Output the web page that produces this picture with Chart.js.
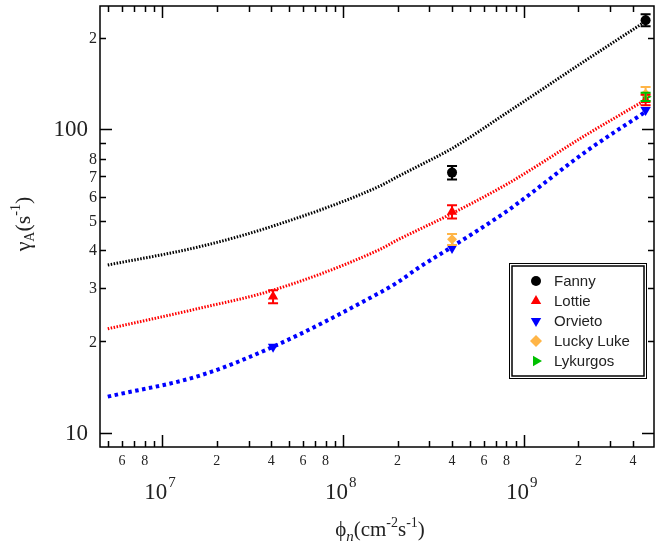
<!DOCTYPE html>
<html>
<head>
  <title>gamma_A vs phi_n</title>
  <script src="https://cdn.jsdelivr.net/npm/chart.js"></script>
  <style>
    body { margin: 0; background: #fff; }
    #wrap { width: 660px; height: 544px; }
  </style>
</head>
<body>
<div id="wrap"><canvas id="gammaChart" width="660" height="544"></canvas></div>
<script>
// axis limits
var xMin = 4.53e6, xMax = 5.23e9;
var yMin = 8.97, yMax = 255;

// fitted curves
var curveX = [5e6, 1.6e7, 4.1e7, 1.57e8, 2e8, 2.6e8, 4e8, 8.2e8, 2.2e9, 4.7e9];
var fannyCurve   = [35.7, 41.0, 48.0, 64.7, 69.8, 75.6, 86.5, 114.3, 169, 227];
var lottieCurve  = [22.0, 25.7, 29.5, 40.0, 43.2, 46.6, 52.8, 66.4, 95.8, 125];
var orvietoCurve = [13.15, 15.4, 19.2, 28.8, 31.3, 34.9, 41.0, 54.2, 84.5, 114.3];

// measured points
var fannyX = [4e8, 4.7e9],           fannyY = [72, 229],          fannyErr = [3.7, 10.5];
var lottieX = [4.1e7, 4e8, 4.7e9],   lottieY = [28.1, 53.5, 125], lottieErr = [1.4, 2.7, 5];
var orvietoX = [4.1e7, 4e8, 4.7e9],  orvietoY = [19.2, 40.6, 115.8];
var luckyX = [4e8, 4.7e9],           luckyY = [43.4, 131],        luckyErr = [1.8, 7];
var lykX = [4.7e9],                  lykY = [128],                lykErr = [4];

// ticks
var xTickVals = [5e6, 6e6, 7e6, 8e6, 9e6, 1e7, 2e7, 3e7, 4e7, 5e7, 6e7, 7e7, 8e7, 9e7,
                 1e8, 2e8, 3e8, 4e8, 5e8, 6e8, 7e8, 8e8, 9e8, 1e9, 2e9, 3e9, 4e9];
var xSmallLabels = {6e6: "6", 8e6: "8", 2e7: "2", 4e7: "4", 6e7: "6", 8e7: "8",
                    2e8: "2", 4e8: "4", 6e8: "6", 8e8: "8", 2e9: "2", 4e9: "4"};
var xDecades = [1e7, 1e8, 1e9];
var xDecadeExp = ["7", "8", "9"];
var yTickVals = [10, 20, 30, 40, 50, 60, 70, 80, 90, 100, 200];
var yBigLabels = {10: "10", 100: "100"};
var ySmallLabels = {20: "2", 30: "3", 40: "4", 50: "5", 60: "6", 70: "7", 80: "8", 200: "2"};

var legendNames = ["Fanny", "Lottie", "Orvieto", "Lucky Luke", "Lykurgos"];
var legendColors = ["#000000", "#ff0000", "#0000ff", "#ffb547", "#00c000"];
var legendShapes = ["circle", "up", "down", "diamond", "right"];

function pts(xs, ys) {
  return xs.map(function (x, i) { return {x: x, y: ys[i]}; });
}

function drawMarker(ctx, shape, x, y, r, color) {
  ctx.save();
  ctx.fillStyle = color;
  ctx.beginPath();
  if (shape === "circle") {
    ctx.arc(x, y, r, 0, Math.PI * 2);
  } else if (shape === "diamond") {
    ctx.moveTo(x, y - r); ctx.lineTo(x + r, y); ctx.lineTo(x, y + r); ctx.lineTo(x - r, y);
  } else {
    var rot = shape === "up" ? 0 : shape === "down" ? Math.PI : Math.PI / 2;
    for (var k = 0; k < 3; k++) {
      var a = rot + k * 2 * Math.PI / 3;
      var px = x + Math.sin(a) * r, py = y - Math.cos(a) * r;
      if (k === 0) ctx.moveTo(px, py); else ctx.lineTo(px, py);
    }
  }
  ctx.closePath();
  ctx.fill();
  ctx.restore();
}

var errorBars = {
  id: "errorBars",
  afterDatasetsDraw: function (chart) {
    var ctx = chart.ctx, xs = chart.scales.x, ys = chart.scales.y;
    chart.data.datasets.forEach(function (ds) {
      if (!ds.err) return;
      ctx.save();
      ctx.strokeStyle = ds.backgroundColor;
      ctx.lineWidth = 2;
      ds.data.forEach(function (p, i) {
        var px = xs.getPixelForValue(p.x);
        var top = ys.getPixelForValue(p.y + ds.err[i]);
        var bot = ys.getPixelForValue(p.y - ds.err[i]);
        ctx.beginPath();
        ctx.moveTo(px, top); ctx.lineTo(px, bot);
        ctx.moveTo(px - 5, top); ctx.lineTo(px + 5, top);
        ctx.moveTo(px - 5, bot); ctx.lineTo(px + 5, bot);
        ctx.stroke();
      });
      ctx.restore();
    });
  }
};

var frameAndLabels = {
  id: "frameAndLabels",
  afterDraw: function (chart) {
    var ctx = chart.ctx, a = chart.chartArea;
    var xs = chart.scales.x, ys = chart.scales.y;
    ctx.save();
    ctx.strokeStyle = "#000";
    ctx.lineWidth = 1.5;
    ctx.strokeRect(a.left, a.top, a.right - a.left, a.bottom - a.top);

    // x ticks, bottom and top, pointing inward
    ctx.beginPath();
    xTickVals.forEach(function (v) {
      var px = Math.round(xs.getPixelForValue(v)) + 0.5;
      var len = xDecades.indexOf(v) >= 0 ? 12 : 6;
      ctx.moveTo(px, a.bottom); ctx.lineTo(px, a.bottom - len);
      ctx.moveTo(px, a.top); ctx.lineTo(px, a.top + len);
    });
    // y ticks, left and right
    yTickVals.forEach(function (v) {
      var py = Math.round(ys.getPixelForValue(v)) + 0.5;
      var len = (v === 10 || v === 100) ? 12 : 6;
      ctx.moveTo(a.left, py); ctx.lineTo(a.left + len, py);
      ctx.moveTo(a.right, py); ctx.lineTo(a.right - len, py);
    });
    ctx.stroke();

    ctx.fillStyle = "#222";
    // x small labels
    ctx.font = "14px 'Liberation Serif'";
    ctx.textAlign = "center";
    ctx.textBaseline = "middle";
    Object.keys(xSmallLabels).forEach(function (k) {
      ctx.fillText(xSmallLabels[k], xs.getPixelForValue(Number(k)), 461);
    });
    // x decade labels
    xDecades.forEach(function (v, i) {
      var px = xs.getPixelForValue(v);
      ctx.font = "23px 'Liberation Serif'";
      ctx.textAlign = "right";
      ctx.textBaseline = "alphabetic";
      ctx.fillText("10", px + 5, 499);
      ctx.font = "15px 'Liberation Serif'";
      ctx.textAlign = "left";
      ctx.fillText(xDecadeExp[i], px + 6, 487);
    });
    // y labels
    ctx.textBaseline = "middle";
    ctx.textAlign = "right";
    ctx.font = "23px 'Liberation Serif'";
    Object.keys(yBigLabels).forEach(function (k) {
      ctx.fillText(yBigLabels[k], 88, ys.getPixelForValue(Number(k)) + 1);
    });
    ctx.font = "16px 'Liberation Serif'";
    Object.keys(ySmallLabels).forEach(function (k) {
      ctx.fillText(ySmallLabels[k], 97, ys.getPixelForValue(Number(k)) + 1);
    });

    // x title: phi_n(cm^-2 s^-1)
    ctx.textAlign = "left";
    ctx.textBaseline = "alphabetic";
    var parts = [
      ["ϕ", "21px 'Liberation Serif'", 0],
      ["n", "italic 15px 'Liberation Serif'", 5],
      ["(cm", "21px 'Liberation Serif'", 0],
      ["-2", "14px 'Liberation Serif'", -9],
      ["s", "21px 'Liberation Serif'", 0],
      ["-1", "14px 'Liberation Serif'", -9],
      [")", "21px 'Liberation Serif'", 0]
    ];
    var w = 0;
    parts.forEach(function (p) { ctx.font = p[1]; w += ctx.measureText(p[0]).width; });
    var cx = 380 - w / 2;
    parts.forEach(function (p) {
      ctx.font = p[1];
      ctx.fillText(p[0], cx, 536 + p[2]);
      cx += ctx.measureText(p[0]).width;
    });

    // y title: gamma_A(s^-1), rotated
    ctx.save();
    ctx.translate(30, 224);
    ctx.rotate(-Math.PI / 2);
    var yparts = [
      ["γ", "22px 'Liberation Serif'", 0],
      ["A", "14px 'Liberation Serif'", 4],
      ["(s", "22px 'Liberation Serif'", 0],
      ["-1", "14px 'Liberation Serif'", -10],
      [")", "22px 'Liberation Serif'", 0]
    ];
    w = 0;
    yparts.forEach(function (p) { ctx.font = p[1]; w += ctx.measureText(p[0]).width; });
    cx = -w / 2;
    yparts.forEach(function (p) {
      ctx.font = p[1];
      ctx.fillText(p[0], cx, 0 + p[2]);
      cx += ctx.measureText(p[0]).width;
    });
    ctx.restore();

    // legend box with double border
    var lx = 509, ly = 263, lw = 138, lh = 116;
    ctx.fillStyle = "#fff";
    ctx.fillRect(lx, ly, lw, lh);
    ctx.lineWidth = 1;
    ctx.strokeStyle = "#000";
    ctx.strokeRect(lx + 0.5, ly + 0.5, lw - 1, lh - 1);
    ctx.lineWidth = 1.5;
    ctx.strokeRect(lx + 3, ly + 3, lw - 6, lh - 6);
    ctx.font = "15px 'Liberation Sans'";
    ctx.textAlign = "left";
    ctx.textBaseline = "middle";
    legendNames.forEach(function (name, i) {
      var yy = 281 + i * 20;
      drawMarker(ctx, legendShapes[i], 536, yy, legendShapes[i] === "circle" ? 5 : 6, legendColors[i]);
      ctx.fillStyle = "#222";
      ctx.fillText(name, 554, yy + 1);
    });
    ctx.restore();
  }
};

var curveStyle = function (label, color, data, width, dash) {
  return {
    label: label, type: "line", data: pts(curveX, data),
    borderColor: color, borderWidth: width, borderDash: dash,
    pointRadius: 0, cubicInterpolationMode: "monotone", fill: false, order: 5
  };
};

new Chart(document.getElementById("gammaChart"), {
  type: "scatter",
  data: {
    datasets: [
      curveStyle("Fanny fit", "#000000", fannyCurve, 3, [1.5, 1.5]),
      curveStyle("Lottie fit", "#ff0000", lottieCurve, 3, [1.5, 1.5]),
      curveStyle("Orvieto fit", "#0000ff", orvietoCurve, 4, [3.5, 3.5]),
      {label: "Fanny", data: pts(fannyX, fannyY), err: fannyErr,
       backgroundColor: "#000000", borderWidth: 0, pointStyle: "circle", pointRadius: 5, order: 1},
      {label: "Lottie", data: pts(lottieX, lottieY), err: lottieErr,
       backgroundColor: "#ff0000", borderWidth: 0, pointStyle: "triangle", pointRadius: 6, order: 1},
      {label: "Orvieto", data: pts(orvietoX, orvietoY),
       backgroundColor: "#0000ff", borderWidth: 0, pointStyle: "triangle", rotation: 180, pointRadius: 6, order: 1},
      {label: "Lucky Luke", data: pts(luckyX, luckyY), err: luckyErr,
       backgroundColor: "#ffb547", borderWidth: 0, pointStyle: "rectRot", pointRadius: 5, order: 1},
      {label: "Lykurgos", data: pts(lykX, lykY), err: lykErr,
       backgroundColor: "#00c000", borderWidth: 0, pointStyle: "triangle", rotation: 90, pointRadius: 6, order: 1}
    ]
  },
  options: {
    responsive: false,
    animation: false,
    layout: { padding: { left: 100, right: 3, top: 6, bottom: 97 } },
    plugins: { legend: { display: false }, tooltip: { enabled: false } },
    scales: {
      x: { type: "logarithmic", min: xMin, max: xMax, display: false },
      y: { type: "logarithmic", min: yMin, max: yMax, display: false }
    }
  },
  plugins: [errorBars, frameAndLabels]
});
</script>
</body>
</html>
